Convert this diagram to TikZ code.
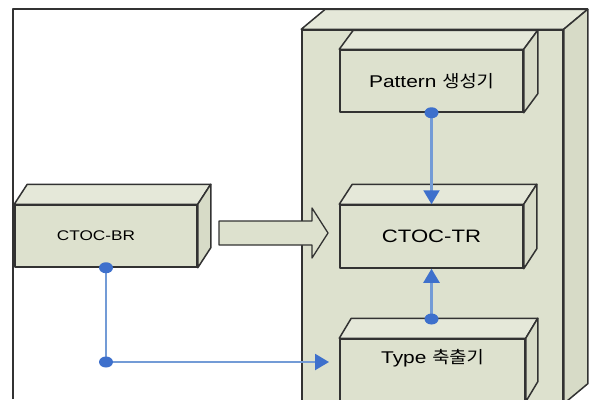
\documentclass[tikz,border=0pt]{standalone}
\usepackage{fontspec}
\setmainfont{Liberation Sans}[FakeStretch=1.23]
\newfontfamily\kr{Noto Sans CJK KR}[FakeStretch=1.1]
\usepackage{xcolor}
\usepackage{tikz}
\usetikzlibrary{calc}
\usetikzlibrary{shapes.geometric}
\usetikzlibrary{arrows.meta}
\definecolor{boxfront}{RGB}{221,225,206}
\definecolor{boxtop}{RGB}{229,232,217}
\definecolor{boxside}{RGB}{215,219,199}
\definecolor{edgegray}{RGB}{50,50,50}
\definecolor{dotblue}{RGB}{62,112,204}
\definecolor{lineblue}{RGB}{115,155,214}
\tikzset{edge/.style = {-{Triangle[length=14pt,width=16pt,color=dotblue]},draw=lineblue,line width=2.2pt}}

% top and right faces of a box node: #1 node, #2 dx, #3 dy
\newcommand\boxfaces[3]{%
  \filldraw[fill=boxtop] (#1.north west) -- ++(#2,-#3) -- ($(#1.north east)+(#2,-#3)$) -- (#1.north east) -- cycle;
  \filldraw[fill=boxside] (#1.north east) -- ++(#2,-#3) -- ($(#1.south east)+(#2,-#3)$) -- (#1.south east) -- cycle;
}

\begin{document}
\begin{tikzpicture}[x=1pt,y=-1pt,line join=round,draw=edgegray,line width=1.5pt,
    main box/.style={rectangle,draw=edgegray,fill=boxfront,line width=1.5pt,inner sep=0pt},
    dot/.style={ellipse,minimum width=14pt,minimum height=11pt,inner sep=0pt,draw=none,fill=dotblue}]
  \useasboundingbox (0,0) rectangle (591,399);
  \clip (0,0) rectangle (591,399);

  % frame
  \draw[edgegray,line width=1.6pt] (13,399) -- (13,9) -- (588,9);

  % container
  \node[main box,minimum width=261pt,minimum height=373pt] (cont) at (432.5,216.5) {};
  \boxfaces{cont}{24}{20}

  \node[main box,minimum width=183pt,minimum height=62pt,font=\fontsize{17}{20}\selectfont] (pat) at (431.5,81) {Pattern {\kr 생성기}};
  \boxfaces{pat}{14}{19}
  \node[main box,minimum width=183pt,minimum height=63pt,font=\fontsize{18}{21}\selectfont] (tr) at (431.5,236.5) {CTOC-TR};
  \boxfaces{tr}{13}{20}
  \node[main box,minimum width=185pt,minimum height=62pt,
    label={[yshift=12pt,font=\fontsize{17}{20}\selectfont]center:Type {\kr 축출기}}] (typ) at (432.5,370) {};
  \boxfaces{typ}{12}{20}

  \node[main box,minimum width=182pt,minimum height=62pt,font=\fontsize{14}{17}\selectfont] (br) at (106,236) {\hspace*{-20pt}CTOC-BR};
  \boxfaces{br}{13}{20}

  % hollow arrow
  \filldraw[fill=boxfront,line width=1.3pt] (219,221) -- (312,221) -- (312,208) -- (328,233)
    -- (312,258) -- (312,245) -- (219,245) -- cycle;

  \coordinate (typtop) at (431.5,319);
  \coordinate (bend) at (106,362);
  \coordinate (typin) at (329,362);

  \draw[edge] (pat.south) -- (tr.north);
  \draw[edge] (typtop) -- (tr.south);
  \draw[edge] (bend) -- (typin);
  \draw[draw=lineblue,line width=2.2pt] (br.south) -- (bend);

  \node[dot] (d1) at (pat.south) {};
  \node[dot] (d2) at (typtop) {};
  \node[dot] (d3) at (br.south) {};
  \node[dot] (d4) at (bend) {};
\end{tikzpicture}
\end{document}
